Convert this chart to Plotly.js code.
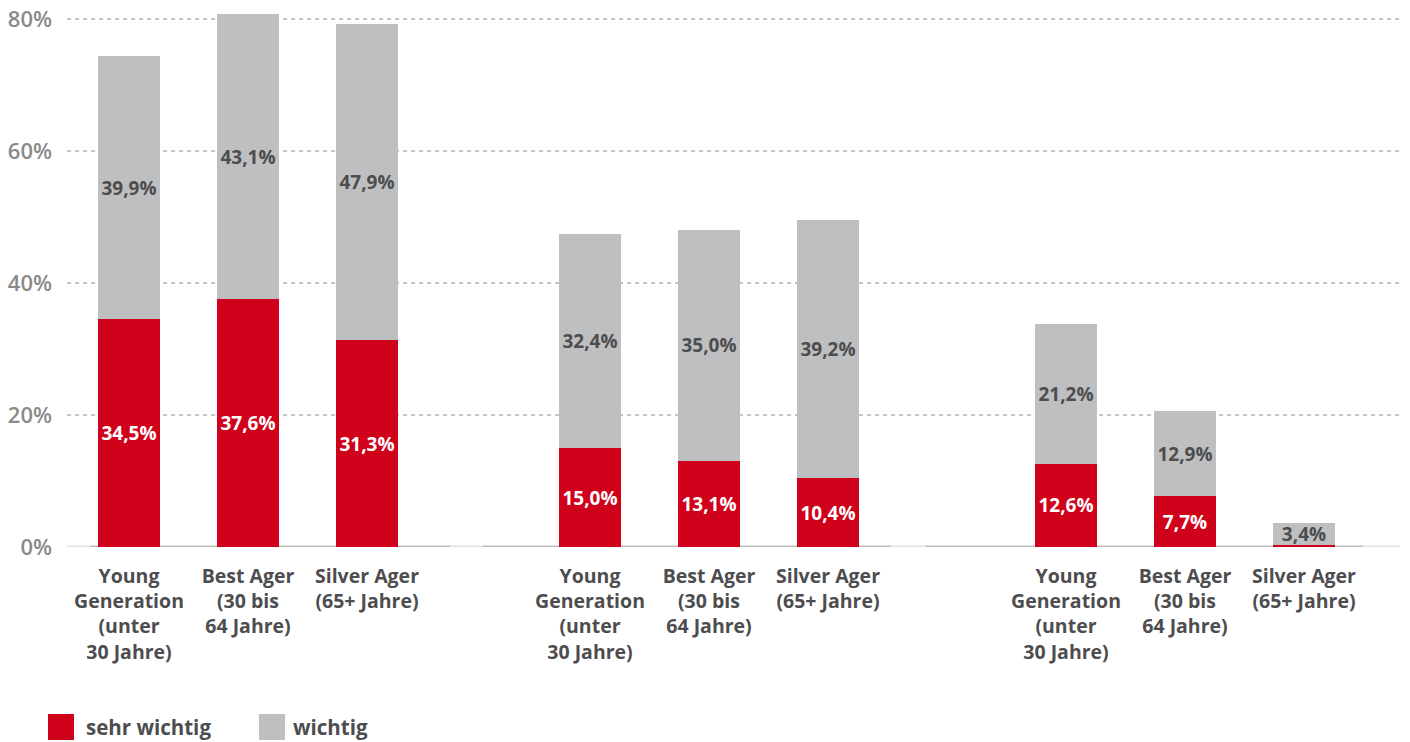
<!DOCTYPE html>
<html>
<head>
<meta charset="utf-8">
<script src="https://cdn.plot.ly/plotly-3.0.1.min.js"></script>
<style>
  html, body { margin: 0; padding: 0; background: #fff; }
  #chart { width: 1410px; height: 742px; }
</style>
</head>
<body>
<div id="chart"></div>
<script>
// ---- data ----
const categories = [
  "Young<br>Generation<br>(unter<br>30 Jahre)",
  "Best Ager<br>(30 bis<br>64 Jahre)",
  "Silver Ager<br>(65+ Jahre)"
];
const groupCount = 3;
const sehrWichtig = [34.5, 37.6, 31.3, 15.0, 13.1, 10.4, 12.6, 7.7, 0.3];
const wichtig     = [39.9, 43.1, 47.9, 32.4, 35.0, 39.2, 21.2, 12.9, 3.4];
const seriesNames = ["sehr wichtig", "wichtig"];
const yTicks = [0, 20, 40, 60, 80];
const yTickLabels = ["0%", "20%", "40%", "60%", "80%"];

// ---- layout helpers ----
const groupOffsets = [0, 3.874, 7.874];
const xPos = [], tickText = [];
for (let g = 0; g < groupCount; g++) {
  for (let i = 0; i < categories.length; i++) {
    xPos.push(groupOffsets[g] + i);
    tickText.push(categories[i]);
  }
}
const fmt = v => v >= 1 ? v.toFixed(1).replace('.', ',') + '%' : '';

const RED = '#d0011b', GRAY = '#bebfc1', DARK = '#4d4d4f', AXIS = '#8a8a8a';
const FONT = '"Open Sans", Roboto, sans-serif';

const traces = [
  {
    type: 'bar', name: seriesNames[0], x: xPos, y: sehrWichtig,
    marker: { color: RED }, width: 0.52,
    text: sehrWichtig.map(fmt), textposition: 'inside', insidetextanchor: 'middle',
    textangle: 0, constraintext: 'none',
    textfont: { color: '#ffffff', size: 19, family: FONT, weight: 'bold' },
    hoverinfo: 'skip', showlegend: false
  },
  {
    type: 'bar', name: seriesNames[1], x: xPos, y: wichtig,
    marker: { color: GRAY }, width: 0.52,
    text: wichtig.map(fmt), textposition: 'inside', insidetextanchor: 'middle',
    textangle: 0, constraintext: 'none',
    textfont: { color: DARK, size: 19, family: FONT, weight: 'bold' },
    hoverinfo: 'skip', showlegend: false
  }
];

// baseline segments (darker under groups, lighter in gaps)
const baseSegs = [
  [-0.521, -0.328, '#e3e3e3'], [-0.328, 2.697, '#bdbdbd'],
  [2.697, 2.975, '#e3e3e3'], [2.975, 6.403, '#bdbdbd'],
  [6.403, 6.697, '#e3e3e3'], [6.697, 10.37, '#bdbdbd'],
  [10.37, 10.68, '#e3e3e3']
];
const shapes = baseSegs.map(s => ({
  type: 'line', xref: 'x', yref: 'y', x0: s[0], x1: s[1], y0: 0, y1: 0,
  line: { color: s[2], width: 3 }, layer: 'below'
}));

// custom legend (paper coords)
const px2x = p => (p - 67) / 1333;
const legendItems = [
  { color: RED, label: seriesNames[0], x0: px2x(48), x1: px2x(74), tx: px2x(84) },
  { color: GRAY, label: seriesNames[1], x0: px2x(259), x1: px2x(285), tx: px2x(291) }
];
const annotations = [];
legendItems.forEach(it => {
  shapes.push({
    type: 'rect', xref: 'paper', yref: 'paper', x0: it.x0, x1: it.x1,
    y0: -0.3574, y1: -0.3093, fillcolor: it.color, line: { width: 0 }
  });
  annotations.push({
    xref: 'paper', yref: 'paper', x: it.tx, y: -0.3333, xanchor: 'left', yanchor: 'middle',
    text: it.label, showarrow: false,
    font: { family: FONT, size: 20.5, color: DARK, weight: 'bold' }
  });
});

const layout = {
  width: 1410, height: 742,
  margin: { l: 67, r: 10, t: 7, b: 195 },
  paper_bgcolor: '#ffffff', plot_bgcolor: '#ffffff',
  barmode: 'stack',
  showlegend: false,
  uniformtext: { mode: 'show', minsize: 19 },
  xaxis: {
    range: [-0.521, 10.681], tickvals: xPos, ticktext: tickText,
    showgrid: false, zeroline: false, showline: false, ticks: '',
    ticklabelstandoff: 15,
    tickfont: { family: FONT, size: 19.5, color: DARK, weight: 'bold' },
    fixedrange: true
  },
  yaxis: {
    range: [0, 81.818], tickmode: 'array', tickvals: yTicks, ticktext: yTickLabels,
    showgrid: true, gridcolor: '#c6c6c6', gridwidth: 2, griddash: '4px,4px',
    zeroline: false, showline: false, ticks: '',
    ticklabelstandoff: 14,
    tickfont: { family: FONT, size: 22, color: AXIS, weight: 600 },
    fixedrange: true
  },
  shapes: shapes,
  annotations: annotations,
  font: { family: FONT }
};

Plotly.newPlot('chart', traces, layout, { displayModeBar: false, staticPlot: true });
</script>
</body>
</html>
